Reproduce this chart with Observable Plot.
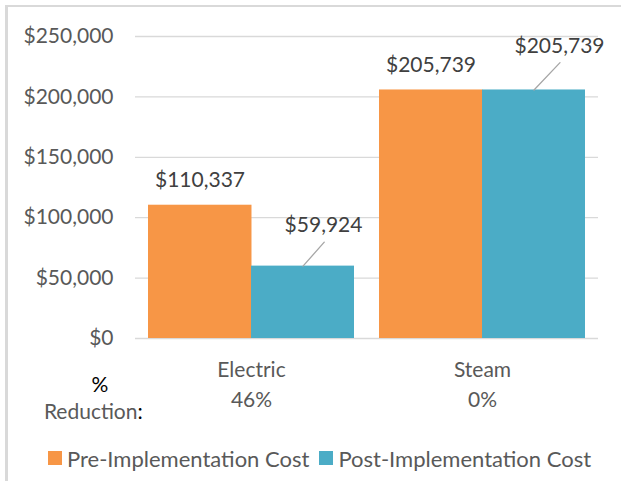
<!DOCTYPE html>
<html>
<head>
<meta charset="utf-8">
<script src="https://cdn.jsdelivr.net/npm/d3@7"></script>
<script src="https://cdn.jsdelivr.net/npm/@observablehq/plot@0.6"></script>
<style>
  body { margin: 0; background: #fff; font-family: Lato, sans-serif; }
  #wrap { position: relative; width: 621px; height: 481px; overflow: hidden; background: #fff; }
  #frame { position: absolute; left: 5px; top: 5px; right: 0; bottom: 0; border-left: 3px solid #d9d9d9; border-top: 2px solid #d9d9d9; }
  #chart { position: absolute; left: 0; top: 0; }
  #legend { position: absolute; left: 48px; top: 446.5px; height: 23px; display: flex; align-items: center; font: 22px Lato, sans-serif; color: #595959; line-height: 23px; white-space: nowrap; }
  #legend .sw { display: inline-block; width: 14px; height: 14px; margin-right: 5px; }
  #legend .item { display: flex; align-items: center; margin-right: 10px; }
</style>
</head>
<body>
<div id="wrap">
  <div id="frame"></div>
  <div id="chart"></div>
  <div id="legend"></div>
</div>
<script>
// ---- data ----
const categories = ["Electric", "Steam"];
const seriesNames = ["Pre-Implementation Cost", "Post-Implementation Cost"];
const preCost = [110337, 205739];
const postCost = [59924, 205739];
const reduction = ["46%", "0%"];
const yTicks = [0, 50000, 100000, 150000, 200000, 250000];
const seriesColors = ["#F79646", "#4BACC6"];

const rows = categories.map((c, i) => ({category: c, pre: preCost[i], post: postCost[i], reduction: reduction[i]}));
const money = d => "$" + d3.format(",")(d);

const W = 621, H = 481, ML = 135, MR = 23, MT = 36, MB = 143;
const xOpts = {type: "band", domain: categories, paddingInner: 0.11, paddingOuter: 0.055};
const bw = Plot.scale({x: {...xOpts, range: [ML, W - MR]}}).bandwidth;

const lineShape = {draw(context, l) { context.moveTo(0, 0); context.lineTo(0, -l); }};

const chart = Plot.plot({
  width: W, height: H,
  marginLeft: ML, marginRight: MR, marginTop: MT, marginBottom: MB,
  style: {fontFamily: "Lato, sans-serif", fontSize: "21px", color: "#595959", background: "transparent"},
  x: {...xOpts, label: null},
  y: {domain: [0, 250000], label: null},
  marks: [
    Plot.ruleY(yTicks, {stroke: "#d9d9d9", strokeWidth: 1.3}),
    Plot.barY(rows, {x: "category", y: "pre", fill: seriesColors[0], insetRight: bw / 2 - 0.5}),
    Plot.barY(rows, {x: "category", y: "post", fill: seriesColors[1], insetLeft: bw / 2}),
    Plot.axisY({ticks: yTicks, tickSize: 0, tickPadding: 22, tickFormat: money, label: null, fill: "#595959"}),
    Plot.axisX({tickSize: 0, tickPadding: 16.5, label: null, fill: "#595959", lineHeight: 1.46,
      tickFormat: d => d + "\n" + reduction[categories.indexOf(d)]}),
    // pre labels
    Plot.text(rows, {x: "category", y: "pre", text: d => money(d.pre), dx: -bw / 4, dy: -25, fill: "#404040", fontSize: 21}),
    // post labels (moved with leader lines)
    Plot.text(rows.filter(d => d.category === "Electric"), {x: "category", y: "post", text: d => money(d.post), dx: bw / 4 + 20.5, dy: -40.4, fill: "#404040", fontSize: 21}),
    Plot.text(rows.filter(d => d.category === "Steam"), {x: "category", y: "post", text: d => money(d.post), dx: bw / 4 + 25.5, dy: -43.6, fill: "#404040", fontSize: 21}),
    Plot.vector(rows.filter(d => d.category === "Electric"), {x: "category", y: "post", dx: bw / 4, anchor: "start", length: 32, rotate: 41.6, shape: lineShape, stroke: "#a6a6a6", strokeWidth: 1.3}),
    Plot.vector(rows.filter(d => d.category === "Steam"), {x: "category", y: "post", dx: bw / 4, anchor: "start", length: 37.7, rotate: 43.6, shape: lineShape, stroke: "#a6a6a6", strokeWidth: 1.3}),
    // "% Reduction:" row label
    Plot.text(["%"], {text: d => d, frameAnchor: "bottom-left", dx: -44, dy: 53.6, fill: "#000", fontSize: 21}),
    Plot.text(["Reduction"], {text: d => d, frameAnchor: "bottom-left", textAnchor: "end", dx: 2, dy: 80.3, fill: "#595959", fontSize: 21}),
    Plot.text([":"], {text: d => d, frameAnchor: "bottom-left", textAnchor: "start", dx: 2, dy: 80.3, fill: "#000", fontSize: 21})
  ]
});
document.getElementById("chart").appendChild(chart);

// legend
const legend = document.getElementById("legend");
seriesNames.forEach((name, i) => {
  const item = document.createElement("span");
  item.className = "item";
  const sw = document.createElement("span");
  sw.className = "sw";
  sw.style.background = seriesColors[i];
  const label = document.createElement("span");
  label.textContent = name;
  item.appendChild(sw);
  item.appendChild(label);
  legend.appendChild(item);
});
</script>
</body>
</html>
